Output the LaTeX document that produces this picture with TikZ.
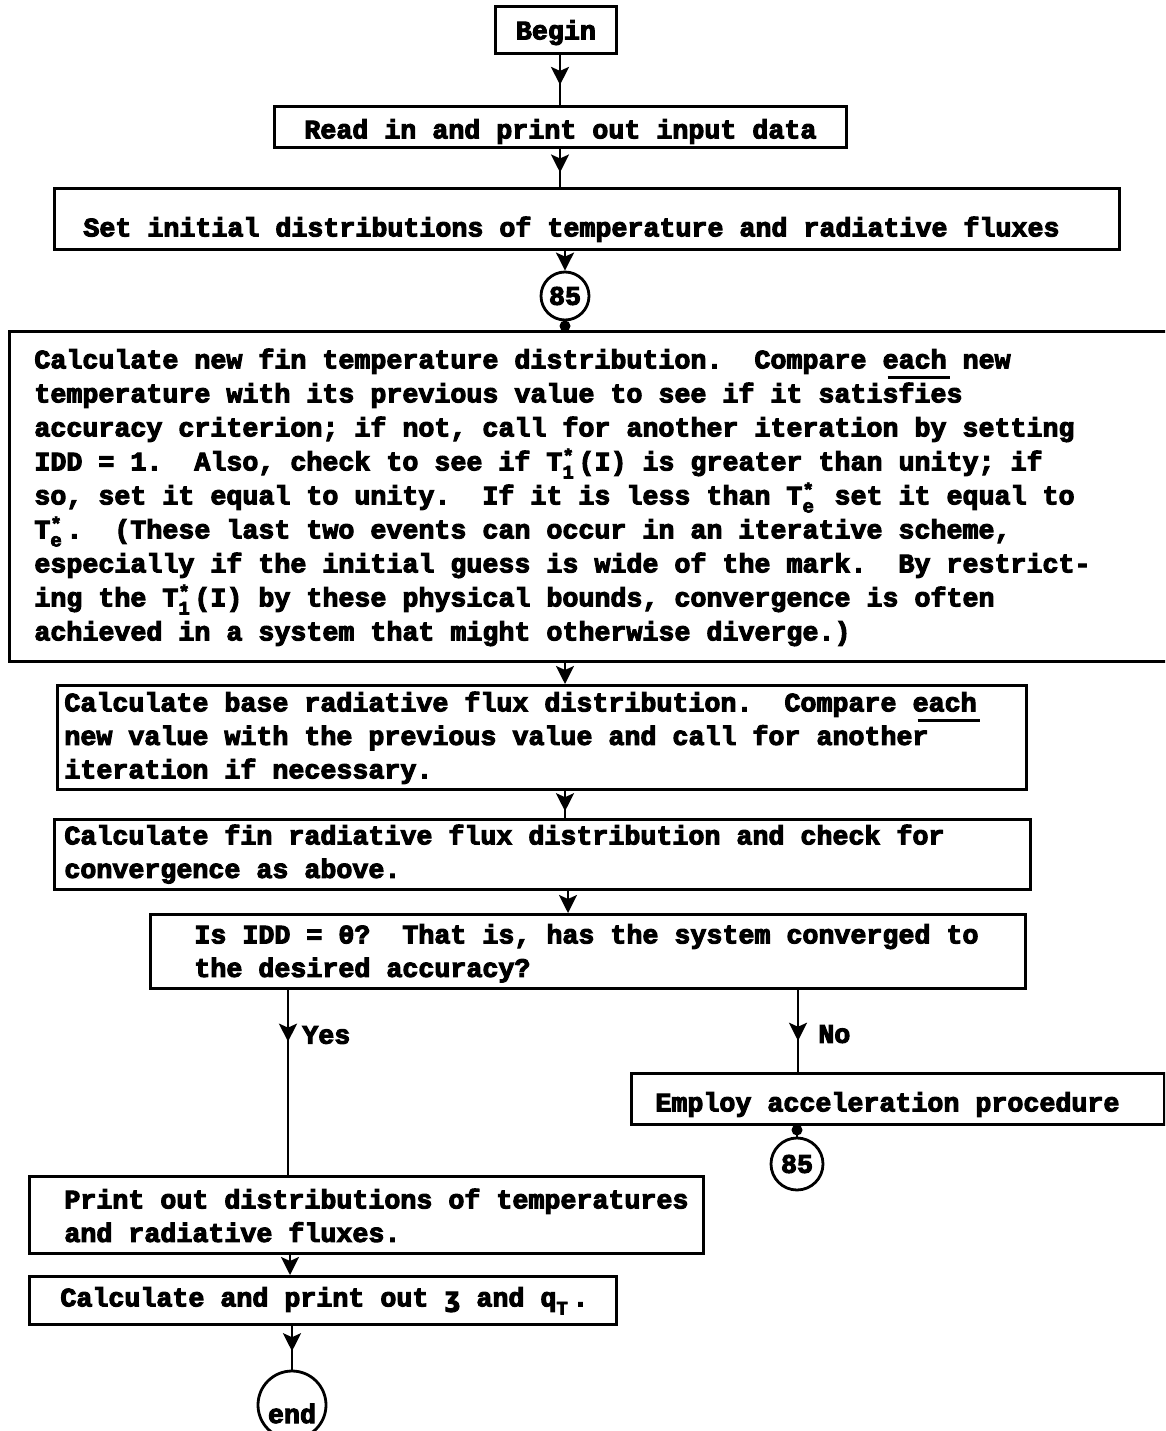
\documentclass[tikz,border=0pt]{standalone}
\usepackage{fontspec}
\usetikzlibrary{arrows.meta,decorations.markings}
\newfontfamily\tw[BoldFeatures={FakeBold=4}]{Liberation Mono}
\newfontfamily\twezh[BoldFeatures={FakeBold=4}]{DejaVu Sans Mono}
\newcommand\fixsp{\spaceskip=16pt\relax\xspaceskip=16pt\relax}
\newcommand\pad[1]{\leftskip=#1\relax\fixsp}
\newcommand\twfont{\tw\bfseries\fontsize{26.67}{33.5}\selectfont\frenchspacing\hyphenpenalty=10000 }
\newcommand\twsmall{\tw\bfseries\fontsize{19}{19}\selectfont}
\newcommand\supsub[2]{\makebox[16pt][l]{\rlap{\raisebox{8pt}{\twsmall #1}}\raisebox{-8pt}{\twsmall #2}}}
\newcommand\ezh{{\twezh\bfseries\fontsize{26.5}{33.5}\selectfont ʒ}}
\newcommand\uline[1]{\rlap{\hspace{5pt}\rule[-11pt]{62pt}{3pt}}#1}
\begin{document}
\begin{tikzpicture}[x=1pt,y=-1pt,
  box/.style={draw, line width=2.8pt, inner xsep=0pt, inner ysep=0pt, anchor=north west, align=left, font=\twfont},
  cbox/.style={box, align=center},
  conn/.style={line width=2.6pt},
  endtip/.style={-{Stealth[length=18pt,width=18pt,inset=4pt]}},
  tipat/.style={postaction={decorate}, decoration={markings, mark=at position #1 with {\arrow{Stealth[length=18pt,width=18pt,inset=4pt]}}}},
  conncirc/.style={draw, circle, line width=2.8pt, inner sep=0pt, font=\twfont},
  lbl/.style={font=\twfont, inner sep=0pt, anchor=base west}]
\useasboundingbox (0,0) rectangle (1165,1431);
\fill[white] (0,0) rectangle (1165,1431);
\clip (0,0) rectangle (1165,1431);

% boxes
\node[cbox, text width=121pt, text height=33pt, text depth=14pt] (begin) at (494,5) {Begin};
\node[cbox, text width=572pt, text height=32pt, text depth=9pt] (read) at (273,105) {\fixsp Read in and print out input data\par};
\node[box, text width=1065pt, text height=48pt, text depth=13pt] (set) at (53,187)
  {\pad{29pt}Set initial distributions of temperature and radiative fluxes\par};
\node[conncirc, minimum size=48pt] (c85a) at (565,296) {85};
\node[box, text width=1200pt, text height=37pt, text depth=293pt, font=\twfont\fontsize{26.67}{34}\selectfont] (big) at (8,330)
  {\pad{25pt}%
   Calculate new fin temperature distribution.~ Compare \uline{each} new\\
   temperature with its previous value to see if it satisfies\\
   accuracy criterion; if not, call for another iteration by setting\\
   IDD = 1.~ Also, check to see if T\supsub{*}{1}(I) is greater than unity; if\\
   so, set it equal to unity.~ If it is less than T\supsub{*}{e} set it equal to\\
   T\supsub{*}{e}.~ (These last two events can occur in an iterative scheme,\\
   especially if the initial guess is wide of the mark.~ By restrict-\\
   ing the T\supsub{*}{1}(I) by these physical bounds, convergence is often\\
   achieved in a system that might otherwise diverge.)\par};
\node[box, text width=969pt, text height=26pt, text depth=78pt] (base) at (56,684)
  {\pad{7pt}%
   Calculate base radiative flux distribution.~ Compare \uline{each}\\
   new value with the previous value and call for another\\
   iteration if necessary.\par};
\node[box, text width=976pt, text height=25pt, text depth=45pt] (fin) at (53,818)
  {\pad{10pt}%
   Calculate fin radiative flux distribution and check for\\
   convergence as above.\par};
\node[box, text width=875pt, text height=29pt, text depth=45pt] (dec) at (149,913)
  {\pad{44pt}%
   Is IDD = 0?~ That is, has the system converged to\\
   the desired accuracy?\par};
\node[box, text width=533pt, text height=38pt, text depth=13pt] (employ) at (630,1072)
  {\pad{24pt}Employ acceleration procedure\par};
\node[conncirc, minimum size=52pt] (c85b) at (797,1164) {85};
\node[box, text width=674pt, text height=32pt, text depth=45pt] (print) at (28,1175)
  {\pad{35pt}%
   Print out distributions of temperatures\\
   and radiative fluxes.\par};
\node[box, text width=587pt, text height=30pt, text depth=18pt] (calcp) at (28,1275)
  {\pad{31pt}Calculate and print out \ezh{} and q\supsub{}{T}.\par};
\node[conncirc, minimum size=68pt, text height=36pt, text depth=0pt] (end) at (292,1405) {end};

% connectors
\draw[conn, tipat=0.6] (begin.south -| 560,0) -- (read.north -| 560,0);
\draw[conn, tipat=0.62] (read.south -| 560,0) -- (set.north -| 560,0);
\draw[conn, endtip] (set.south -| c85a.north) -- (c85a.north);
\draw[conn] (c85a.south) -- (big.north -| c85a.south);
\fill (565,326) circle (5.5);
\draw[conn, endtip] (big.south -| 565,0) -- (base.north -| 565,0);
\draw[conn, tipat=0.75] (base.south -| 565,0) -- (fin.north -| 565,0);
\draw[conn, endtip] (fin.south -| 568,0) -- (dec.north -| 568,0);
\draw[conn, tipat=0.28] (dec.south -| 288,0) -- node[lbl, pos=0.28, xshift=13pt, yshift=-2pt] {Yes} (print.north -| 288,0);
\draw[conn, tipat=0.62] (dec.south -| 798,0) -- node[lbl, pos=0.62, xshift=19pt, yshift=-2pt] {No} (employ.north -| 798,0);
\draw[conn] (employ.south -| c85b.north) -- (c85b.north);
\fill (797,1130) circle (5.5);
\draw[conn, endtip] (print.south -| 290,0) -- (calcp.north -| 290,0);
\draw[conn, tipat=0.58] (calcp.south -| end.north) -- (end.north);
\end{tikzpicture}
\end{document}
